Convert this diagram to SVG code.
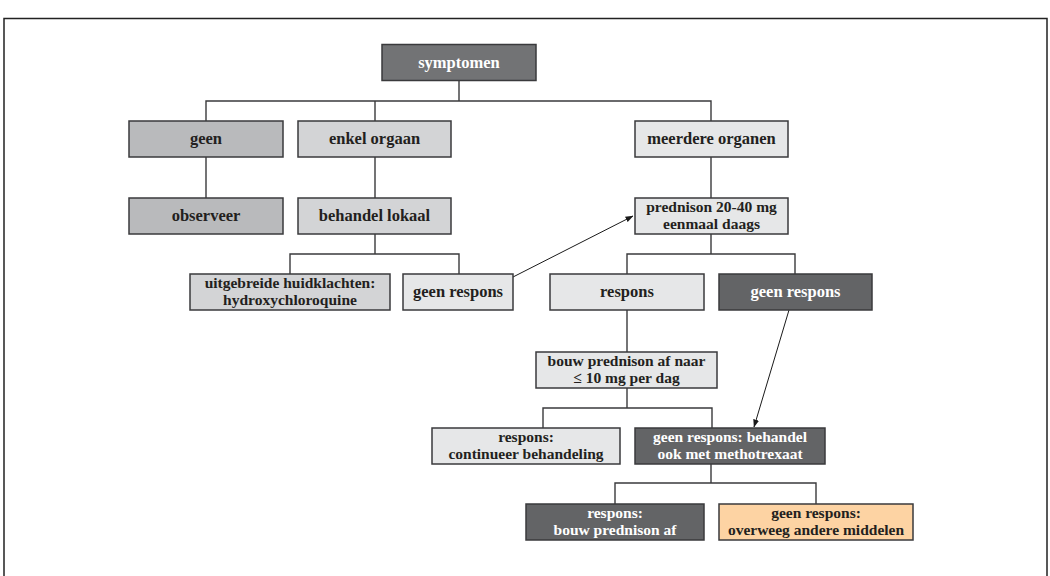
<svg xmlns="http://www.w3.org/2000/svg" width="1050" height="576" viewBox="0 0 1050 576">
<style>
.b{stroke:#3a3a3c;stroke-width:1.5}
.d{fill:#636466}
.s{fill:#727375}
.m{fill:#b9babc}
.l{fill:#d3d4d6}
.x{fill:#e6e7e8}
.p{fill:#fdd3a3}
text{font-family:"Liberation Serif","Times New Roman",serif;font-weight:bold;font-size:16.5px;text-anchor:middle;fill:#231f20}
text.t{font-size:15.5px}
.w{fill:#ffffff}
.c{stroke:#3a3a3c;stroke-width:1.4;fill:none}
.a{stroke:#1a1a1a;stroke-width:1;fill:none;marker-end:url(#ah)}
</style>
<defs>
<marker id="ah" markerWidth="8" markerHeight="6" refX="7.5" refY="3" orient="auto" markerUnits="userSpaceOnUse">
<path d="M0,0 L8,3 L0,6 z" fill="#1a1a1a"/>
</marker>
</defs>
<rect width="1050" height="576" fill="#ffffff"/>
<path d="M4,576 V18.5 H1047 V576" fill="none" stroke="#222" stroke-width="1.5"/>
<g id="connectors">
<path class="c" d="M459,81 V101 M206,121 V101 H711 V121 M375,101 V121"/>
<path class="c" d="M206,157 V198 M375,157 V198 M711,157 V198"/>
<path class="c" d="M375,234 V254 M290,274 V254 H459 V274"/>
<path class="c" d="M711,234 V254 M627,274 V254 H795 V274"/>
<path class="c" d="M627,310 V352"/>
<path class="c" d="M627,388 V408 M543,428 V408 H712 V428"/>
<path class="c" d="M711,464 V483 M615,504 V483 H816 V504"/>
<path class="a" d="M513,277 L633,216"/>
<path class="a" d="M789,310 L754,427"/>
</g>
<g id="n-symptomen"><rect class="b s" x="382" y="44.5" width="154" height="36"/><text class="w" x="459" y="68">symptomen</text></g>
<g id="n-geen"><rect class="b m" x="129" y="121" width="154" height="36"/><text x="206" y="144">geen</text></g>
<g id="n-enkel"><rect class="b l" x="298" y="121" width="153" height="36"/><text x="374.5" y="144">enkel orgaan</text></g>
<g id="n-meerdere"><rect class="b x" x="635" y="121" width="153" height="36"/><text x="711.5" y="144">meerdere organen</text></g>
<g id="n-observeer"><rect class="b m" x="129" y="198" width="154" height="36"/><text x="206" y="221">observeer</text></g>
<g id="n-lokaal"><rect class="b l" x="298" y="198" width="153" height="36"/><text x="374.5" y="221">behandel lokaal</text></g>
<g id="n-prednison"><rect class="b x" x="635" y="198" width="153" height="36"/><text class="t" x="711.5" y="211.5">prednison 20-40 mg<tspan x="711.5" dy="17.5">eenmaal daags</tspan></text></g>
<g id="n-uitgebreide"><rect class="b l" x="190" y="274" width="200" height="36"/><text class="t" x="290" y="287.5">uitgebreide huidklachten:<tspan x="290" dy="17.5">hydroxychloroquine</tspan></text></g>
<g id="n-geenrespons1"><rect class="b x" x="403" y="274" width="110" height="36"/><text x="458" y="297">geen respons</text></g>
<g id="n-respons"><rect class="b x" x="550" y="274" width="154" height="36"/><text x="627" y="297">respons</text></g>
<g id="n-geenrespons2"><rect class="b d" x="719" y="274" width="153" height="36"/><text class="w" x="795.5" y="297">geen respons</text></g>
<g id="n-bouw"><rect class="b x" x="536" y="352" width="181" height="36"/><text class="t" x="626.5" y="365.5">bouw prednison af naar<tspan x="626.5" dy="17.5">≤ 10 mg per dag</tspan></text></g>
<g id="n-continueer"><rect class="b x" x="432" y="428" width="188" height="36"/><text class="t" x="526" y="441.5">respons:<tspan x="526" dy="17.5">continueer behandeling</tspan></text></g>
<g id="n-methotrexaat"><rect class="b d" x="635" y="428" width="190" height="36"/><text class="t w" x="730" y="441.5">geen respons: behandel<tspan x="730" dy="17.5">ook met methotrexaat</tspan></text></g>
<g id="n-bouwaf"><rect class="b d" x="526" y="504" width="178" height="36"/><text class="t w" x="615" y="517.5">respons:<tspan x="615" dy="17.5">bouw prednison af</tspan></text></g>
<g id="n-overweeg"><rect class="b p" x="719" y="504" width="194" height="36"/><text class="t" x="816" y="517.5">geen respons:<tspan x="816" dy="17.5">overweeg andere middelen</tspan></text></g>
</svg>
